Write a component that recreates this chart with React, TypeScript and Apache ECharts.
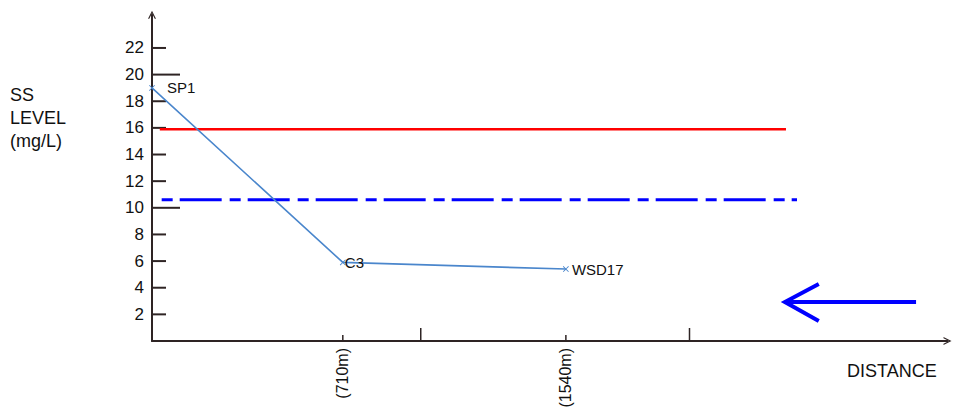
import React, { useEffect, useRef } from "react";
import * as echarts from "echarts";

const stations = ["SP1", "C3", "WSD17"];
const distances = [0, 710, 1540];
const ssLevels = [19.0, 5.9, 5.4];
const labelGaps = [12, -1, 3];

const yTickValues = [2, 4, 6, 8, 10, 12, 14, 16, 18, 20, 22];
const xTickValues = [710, 1000, 1540, 2000];
const xLabelValues = [710, 1540];
const xLabelTexts = ["(710m)", "(1540m)"];

const redLimit = 15.9;
const redRange = [29, 2359];
const blueLimit = 10.6;
const blueRange = [36, 2400];

const arrowShaft = [[2843, 2.93], [2355, 2.93]];
const arrowHead = [[2481, 4.28], [2355, 2.93], [2481, 1.5]];

const X_MAX = 2960;
const Y_MAX = 24.5;

const AXIS_COLOR = "#2e2424";
const TEXT_COLOR = "#111111";
const REGULAR = "'Liberation Sans', Arial, sans-serif";

const chevron = "path://M0,10 L5,0 L10,10 L8.4,10 L5,3.2 L1.6,10 Z";
const crossMark =
  "path://M0,1 L1,0 L5,4 L9,0 L10,1 L6,5 L10,9 L9,10 L5,6 L1,10 L0,9 L4,5 Z";

export default function App() {
  const ref = useRef<HTMLDivElement>(null);

  useEffect(() => {
    if (!ref.current) return;
    const chart = echarts.init(ref.current, null, { renderer: "svg" });

    const option: any = {
      animation: false,
      backgroundColor: "#ffffff",
      grid: {
        left: 152,
        right: 7.5,
        top: 14.66,
        bottom: 66,
        containLabel: false,
        outerBoundsMode: "none",
      },
      xAxis: {
        type: "value",
        min: 0,
        max: X_MAX,
        interval: 10,
        splitLine: { show: false },
        axisTick: { show: false },
        axisLine: {
          show: true,
          lineStyle: { color: AXIS_COLOR, width: 2 },
          symbol: ["none", chevron],
          symbolSize: [11, 8],
        },
        axisLabel: {
          rotate: 90,
          margin: 7,
          color: TEXT_COLOR,
          fontFamily: REGULAR,
          fontSize: 16,
          formatter: (v: number) => {
            const i = xLabelValues.indexOf(v);
            return i >= 0 ? xLabelTexts[i] : "";
          },
        },
      },
      yAxis: {
        type: "value",
        min: 0,
        max: Y_MAX,
        interval: 2,
        splitLine: { show: false },
        axisTick: { show: false },
        axisLine: {
          show: true,
          lineStyle: { color: AXIS_COLOR, width: 2 },
          symbol: ["none", chevron],
          symbolSize: [11, 8],
        },
        axisLabel: {
          margin: 8,
          color: TEXT_COLOR,
          fontFamily: REGULAR,
          fontSize: 17,
          formatter: (v: number) => (yTickValues.indexOf(v) >= 0 ? String(v) : ""),
        },
      },
      graphic: [
        {
          type: "text",
          left: 10,
          top: 83,
          style: {
            text: "SS\nLEVEL\n(mg/L)",
            font: `18px ${REGULAR}`,
            lineHeight: 23,
            fill: TEXT_COLOR,
          },
        },
        {
          type: "text",
          left: 847,
          top: 362,
          style: {
            text: "DISTANCE",
            font: `18px ${REGULAR}`,
            fill: TEXT_COLOR,
          },
        },
      ],
      series: [
        {
          type: "custom",
          name: "yTicks",
          clip: false,
          silent: true,
          data: yTickValues.map((v) => [0, v]),
          renderItem: (params: any, api: any) => {
            const v = api.value(1);
            const p = api.coord([0, v]);
            const len = v % 10 === 0 ? 28 : 14;
            return {
              type: "line",
              shape: { x1: p[0], y1: p[1], x2: p[0] + len, y2: p[1] },
              style: { stroke: AXIS_COLOR, lineWidth: 2 },
            };
          },
        },
        {
          type: "custom",
          name: "xTicks",
          clip: false,
          silent: true,
          data: xTickValues.map((v) => [v, 0]),
          renderItem: (params: any, api: any) => {
            const v = api.value(0);
            const p = api.coord([v, 0]);
            const major = v % 1000 === 0;
            return {
              type: "line",
              shape: {
                x1: p[0],
                y1: p[1],
                x2: p[0],
                y2: major ? p[1] - 13 : p[1] - 6,
              },
              style: { stroke: AXIS_COLOR, lineWidth: 1.5 },
            };
          },
        },
        {
          type: "line",
          name: "red",
          silent: true,
          symbol: "none",
          data: redRange.map((x) => [x, redLimit]),
          lineStyle: { color: "#ff0000", width: 2.5 },
        },
        {
          type: "line",
          name: "blue",
          silent: true,
          symbol: "none",
          data: blueRange.map((x) => [x, blueLimit]),
          lineStyle: { color: "#0000ff", width: 3, type: [42, 8, 11, 7], dashOffset: 50 },
        },
        {
          type: "line",
          name: "SS",
          symbol: crossMark,
          symbolSize: 6,
          itemStyle: { color: "#4a86cc" },
          lineStyle: { color: "#4a86cc", width: 1.6 },
          data: distances.map((d, i) => ({
            value: [d, ssLevels[i]],
            label: {
              show: true,
              position: "right",
              distance: labelGaps[i],
              formatter: stations[i],
              color: TEXT_COLOR,
              fontFamily: REGULAR,
              fontSize: 15,
            },
          })),
          z: 5,
        },
        {
          type: "line",
          name: "arrowShaft",
          silent: true,
          symbol: "none",
          data: arrowShaft,
          lineStyle: { color: "#0000ff", width: 4 },
        },
        {
          type: "line",
          name: "arrowHead",
          silent: true,
          symbol: "none",
          data: arrowHead,
          lineStyle: { color: "#0000ff", width: 4, join: "miter" },
        },
      ],
    };

    chart.setOption(option);
    return () => chart.dispose();
  }, []);

  return (
    <div
      ref={ref}
      style={{ position: "absolute", left: 0, top: 0, width: 955, height: 407 }}
    />
  );
}
